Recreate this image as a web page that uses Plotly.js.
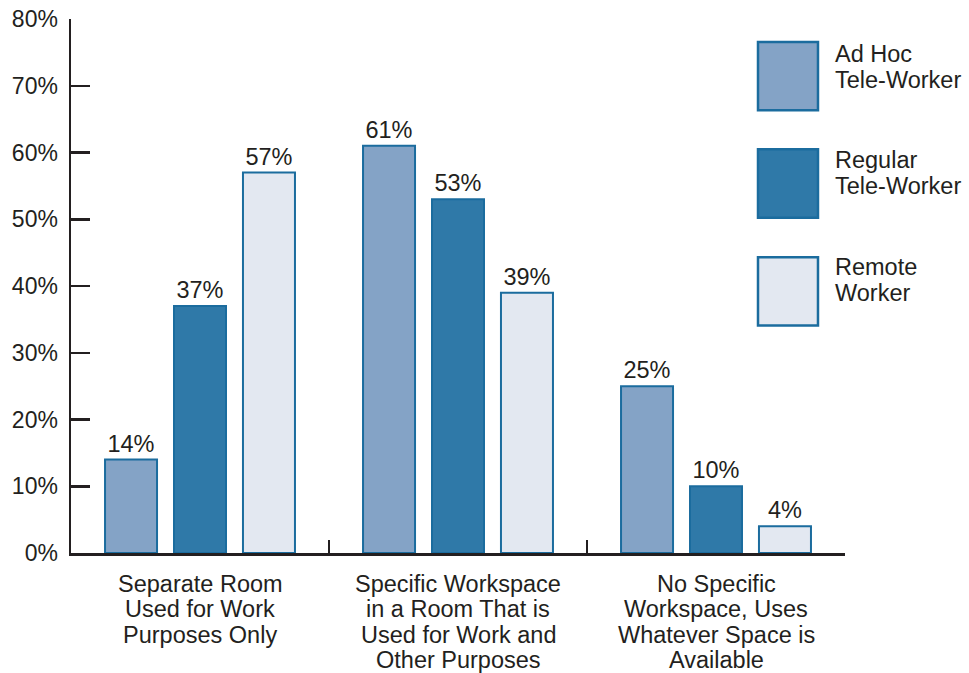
<!DOCTYPE html>
<html>
<head>
<meta charset="utf-8">
<script src="https://cdn.plot.ly/plotly-3.0.1.min.js"></script>
<style>html,body{margin:0;padding:0;background:#fff;}#chart{width:969px;height:673px;}</style>
</head>
<body>
<div id="chart"></div>
<script>
const categories = [
  "Separate Room<br>Used for Work<br>Purposes Only",
  "Specific Workspace<br>in a Room That is<br>Used for Work and<br>Other Purposes",
  "No Specific<br>Workspace, Uses<br>Whatever Space is<br>Available"
];
const seriesNames = ["Ad Hoc<br>Tele-Worker", "Regular<br>Tele-Worker", "Remote<br>Worker"];
const adHoc = [14, 61, 25];
const regular = [37, 53, 10];
const remote = [57, 39, 4];
const yTicks = [0, 10, 20, 30, 40, 50, 60, 70, 80];

const fills = ["#84a3c6", "#2f79a8", "#e3e8f1"];
const outline = "#1b6c9e";
const textColor = "#231f20";
const font = "Liberation Sans, Arial, Helvetica, sans-serif";
const LINE = 25.5;

const allSeries = [adHoc, regular, remote];
const traces = allSeries.map((vals, i) => ({
  type: "bar",
  x: categories,
  y: vals,
  name: seriesNames[i],
  marker: {color: fills[i], line: {color: outline, width: 2}},
  text: vals.map(v => v + "%"),
  textposition: "outside",
  cliponaxis: false,
  textfont: {family: font, size: 23.5, color: textColor},
  hoverinfo: "none"
}));

const shapes = [];
const annotations = [];

// category labels, one annotation per line for tight line spacing
categories.forEach(cat => {
  cat.split("<br>").forEach((line, j) => {
    annotations.push({
      xref: "x", yref: "paper", x: cat, y: 0,
      xanchor: "center", yanchor: "middle",
      yshift: -(30.5 + j * LINE),
      text: line, showarrow: false,
      font: {family: font, size: 23.5, color: textColor}
    });
  });
});

// custom legend (large swatches)
const legTop = [0.957, 0.756, 0.554];
const legH = 0.128;
const legFirstLine = [53.5, 160, 267]; // pixel rows of first text line centres
seriesNames.forEach((nm, i) => {
  shapes.push({
    type: "rect", xref: "paper", yref: "paper",
    x0: 0.8876, x1: 0.9651, y0: legTop[i] - legH, y1: legTop[i],
    fillcolor: fills[i], line: {color: outline, width: 2.5}
  });
  nm.split("<br>").forEach((line, j) => {
    annotations.push({
      xref: "paper", yref: "paper", x: 0.985, y: 1,
      xanchor: "left", yanchor: "middle", align: "left",
      yshift: -(legFirstLine[i] - 19 + j * 26),
      text: line, showarrow: false,
      font: {family: font, size: 23.5, color: textColor}
    });
  });
});

const layout = {
  width: 969, height: 673,
  margin: {l: 71, r: 124, t: 19, b: 120},
  paper_bgcolor: "#fff", plot_bgcolor: "#fff",
  barmode: "group", bargap: 0.198, bargroupgap: 0.246,
  showlegend: false,
  font: {family: font, size: 23, color: textColor},
  xaxis: {
    type: "category",
    showline: true, linecolor: textColor, linewidth: 2.5,
    ticks: "inside", tickson: "boundaries", ticklen: 13, tickwidth: 2.5, tickcolor: textColor,
    showgrid: false, zeroline: false, showticklabels: false
  },
  yaxis: {
    range: [0, 80], tickvals: yTicks, ticktext: yTicks.map(v => v + "%"),
    showline: true, linecolor: textColor, linewidth: 2.5,
    ticks: "inside", ticklen: 19, tickwidth: 2.5, tickcolor: textColor,
    showgrid: false, zeroline: false,
    tickfont: {family: font, size: 23, color: textColor},
    ticklabelstandoff: 6, ticklabelshift: 3.5
  },
  shapes: shapes,
  annotations: annotations
};

Plotly.newPlot("chart", traces, layout, {displayModeBar: false, staticPlot: true});
</script>
</body>
</html>
